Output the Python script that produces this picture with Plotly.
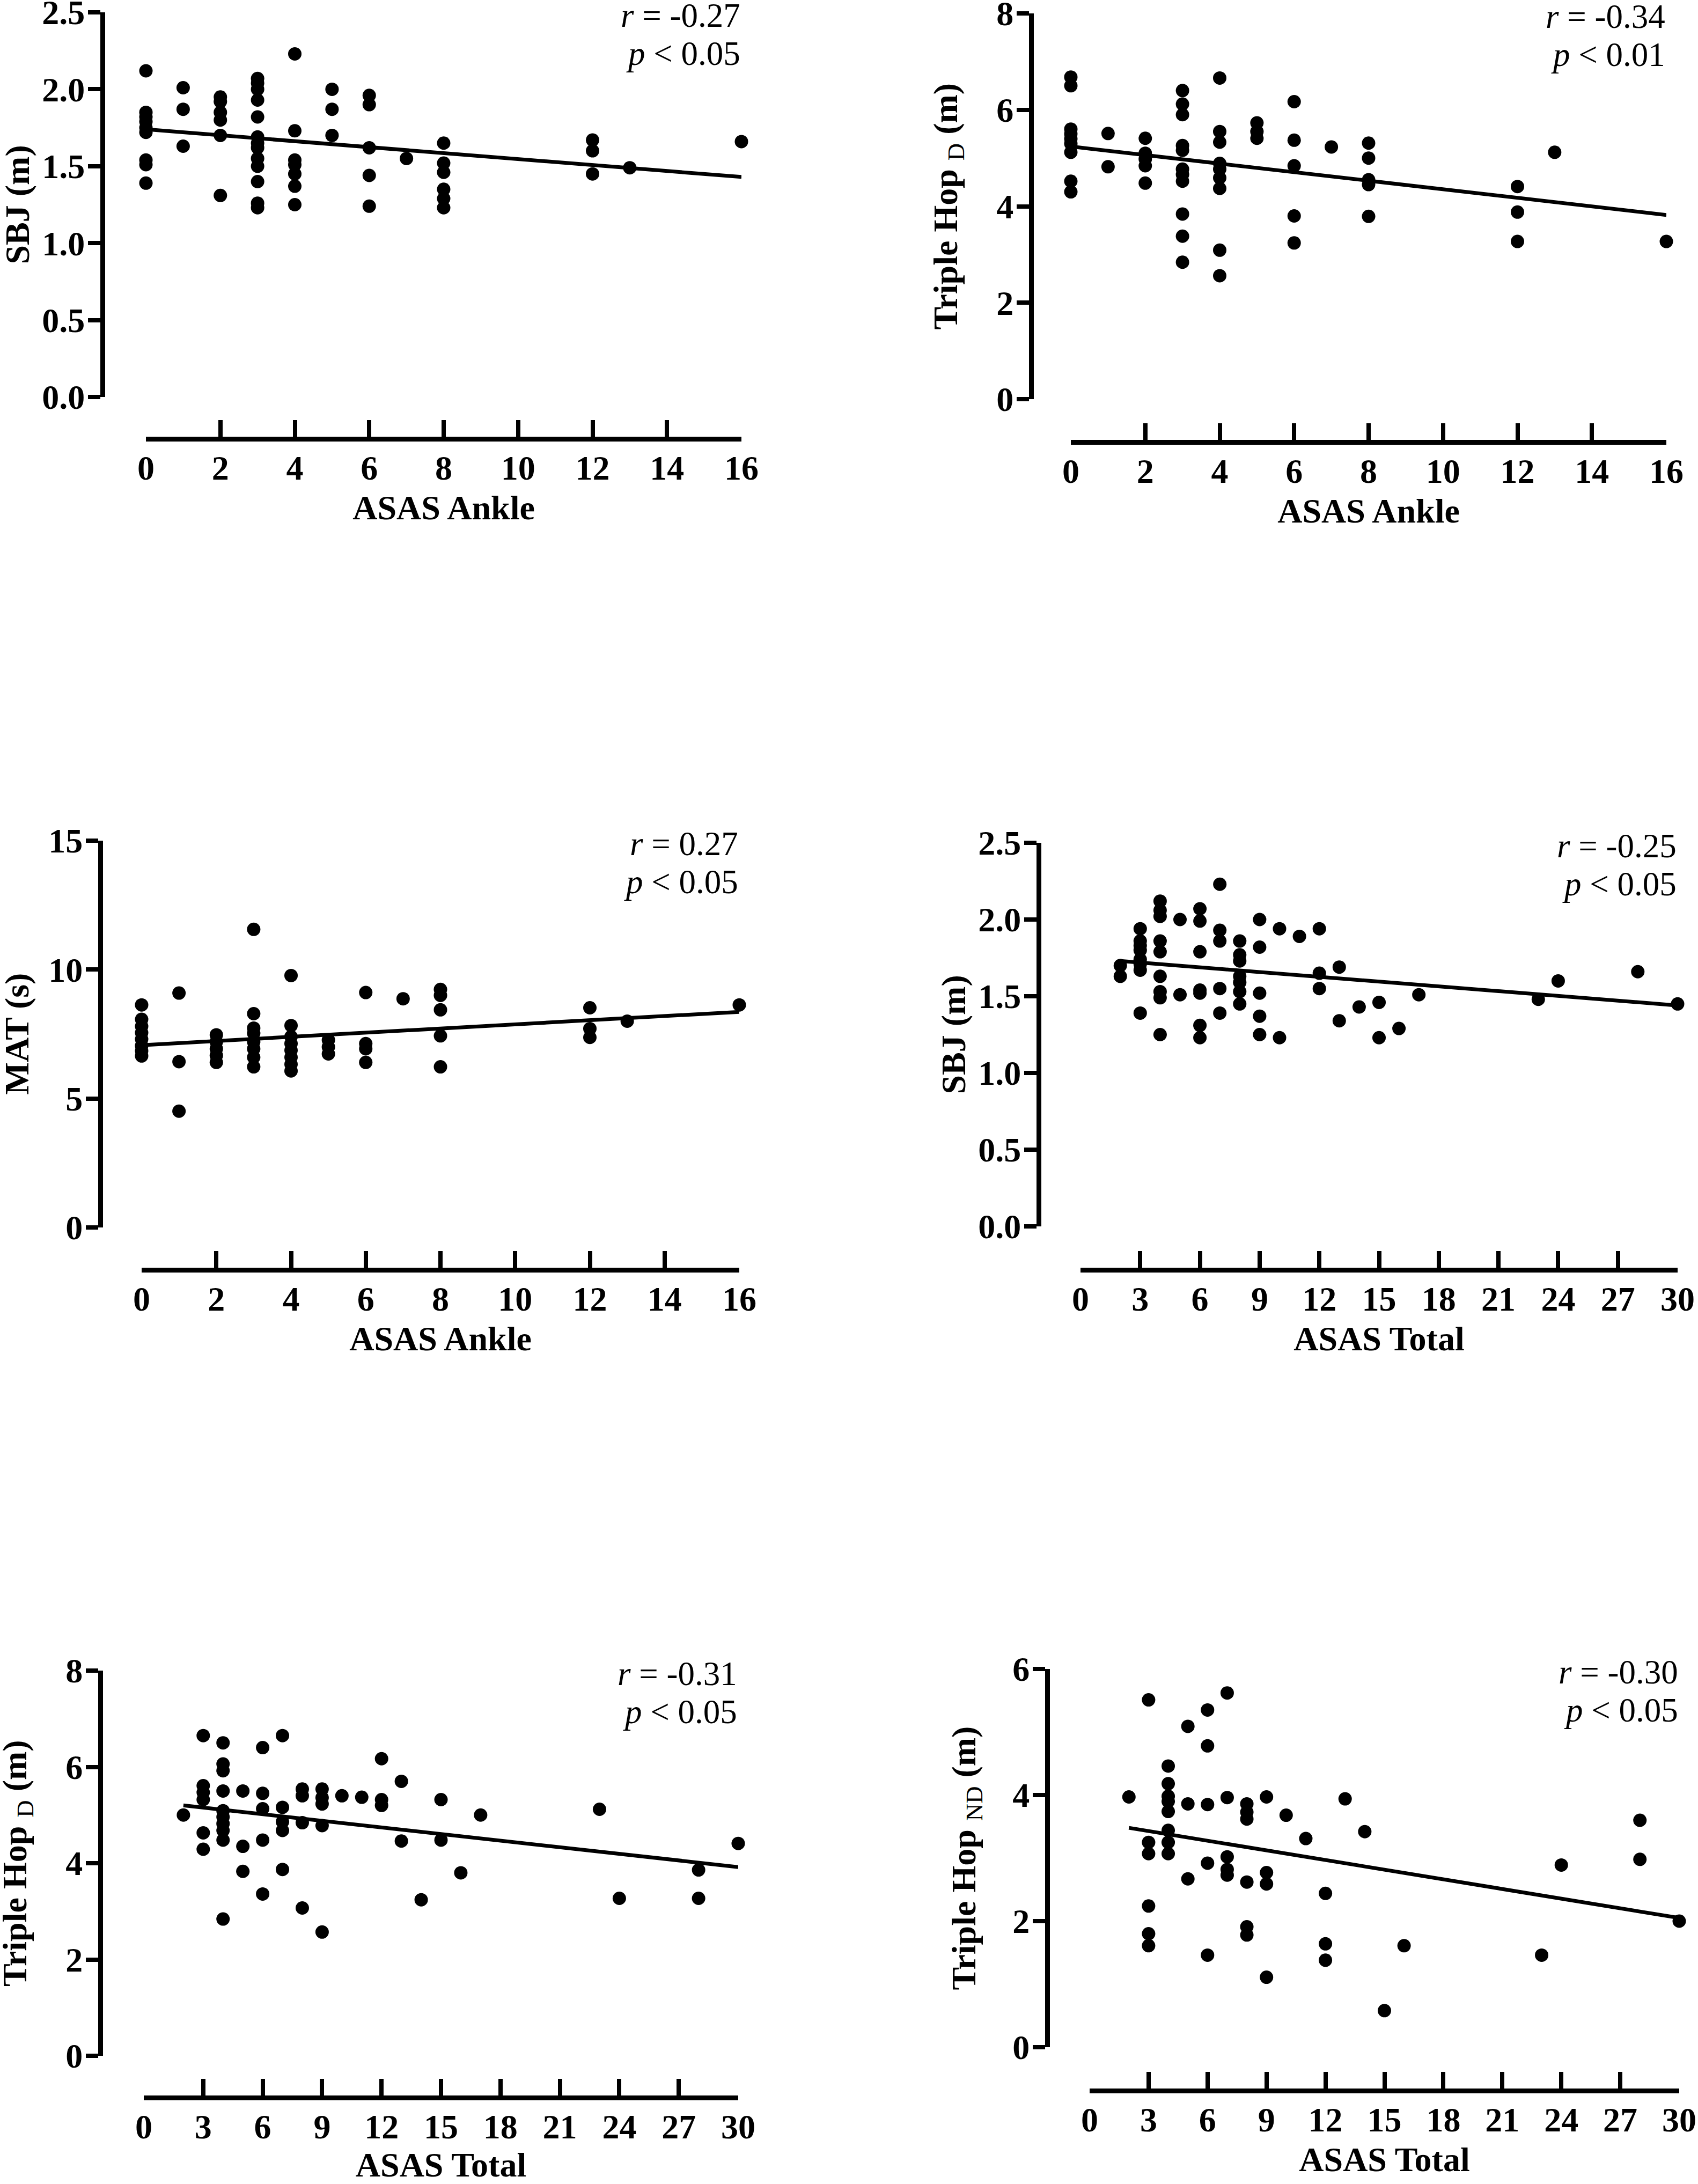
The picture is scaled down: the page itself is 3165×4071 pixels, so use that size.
import plotly.graph_objects as go

W, H = 3165, 4071

# ---- values ----
ankle_ticks = [0, 2, 4, 6, 8, 10, 12, 14, 16]
total_ticks = [0, 3, 6, 9, 12, 15, 18, 21, 24, 27, 30]

# SBJ vs ASAS Ankle
sbj_ankle_x = [0]*9 + [1]*3 + [2]*6 + [3]*13 + [4]*7 + [5]*3 + [6]*5 + [7] + [8]*6 + [12]*3 + [13] + [16]
sbj_ankle_y = [2.12, 1.85, 1.82, 1.79, 1.75, 1.72, 1.54, 1.51, 1.39,
               2.01, 1.87, 1.63,
               1.95, 1.92, 1.85, 1.80, 1.70, 1.31,
               2.07, 2.04, 2.00, 1.93, 1.82, 1.69, 1.65, 1.62, 1.55, 1.50, 1.40, 1.26, 1.23,
               2.23, 1.73, 1.54, 1.51, 1.45, 1.37, 1.25,
               2.00, 1.87, 1.70,
               1.96, 1.90, 1.62, 1.44, 1.24,
               1.55,
               1.65, 1.52, 1.46, 1.35, 1.29, 1.23,
               1.67, 1.60, 1.45,
               1.49,
               1.66]
sbj_ankle_fit = [1.74, 1.43]

# Triple Hop D vs ASAS Ankle
hopd_ankle_x = [0]*9 + [1]*2 + [2]*5 + [3]*11 + [4]*9 + [5]*3 + [6]*5 + [7] + [8]*5 + [12]*3 + [13] + [16]
hopd_ankle_y = [6.68, 6.50, 5.60, 5.50, 5.40, 5.30, 5.12, 4.52, 4.30,
                5.51, 4.82,
                5.41, 5.10, 4.98, 4.84, 4.48,
                6.40, 6.12, 5.90, 5.26, 5.16, 4.77, 4.66, 4.52, 3.84, 3.38, 2.84,
                6.66, 5.55, 5.33, 4.89, 4.77, 4.59, 4.37, 3.09, 2.56,
                5.73, 5.55, 5.41,
                6.17, 5.37, 4.84, 3.80, 3.24,
                5.23,
                5.31, 5.00, 4.55, 4.45, 3.79,
                4.41, 3.88, 3.27,
                5.12,
                3.27]
hopd_ankle_fit = [5.24, 3.82]

# MAT vs ASAS Ankle
mat_ankle_x = [0]*8 + [1]*3 + [2]*5 + [3]*8 + [4]*8 + [5]*3 + [6]*4 + [7] + [8]*5 + [12]*3 + [13] + [16]
mat_ankle_y = [8.63, 8.07, 7.80, 7.55, 7.30, 7.05, 6.85, 6.65,
               9.09, 6.43, 4.51,
               7.47, 7.20, 6.93, 6.67, 6.40,
               11.56, 8.29, 7.73, 7.53, 7.20, 6.93, 6.60, 6.23,
               9.77, 7.83, 7.40, 7.13, 6.87, 6.60, 6.33, 6.07,
               7.27, 7.00, 6.73,
               9.11, 7.13, 6.93, 6.40,
               8.87,
               9.23, 9.00, 8.44, 7.43, 6.23,
               8.52, 7.71, 7.37,
               8.00,
               8.63]
mat_ankle_fit = [7.07, 8.36]

# SBJ vs ASAS Total
sbj_total_x = ([2]*2 + [3]*8 + [4]*9 + [5]*2 + [6]*7 + [7]*5 + [8]*7 + [9]*5 + [10]*2 + [11]
               + [12]*3 + [13]*2 + [14] + [15]*2 + [16] + [17] + [23] + [24] + [28] + [30])
sbj_total_y = [1.70, 1.63,
               1.94, 1.86, 1.83, 1.80, 1.74, 1.71, 1.67, 1.39,
               2.12, 2.06, 2.02, 1.86, 1.79, 1.63, 1.53, 1.49, 1.25,
               2.00, 1.51,
               2.07, 1.99, 1.79, 1.54, 1.52, 1.31, 1.23,
               2.23, 1.93, 1.86, 1.55, 1.39,
               1.86, 1.77, 1.73, 1.63, 1.59, 1.53, 1.45,
               2.00, 1.82, 1.52, 1.37, 1.25,
               1.94, 1.23,
               1.89,
               1.94, 1.65, 1.55,
               1.69, 1.34,
               1.43,
               1.46, 1.23,
               1.29,
               1.51,
               1.48,
               1.60,
               1.66,
               1.45]
sbj_total_fit = [1.73, 1.44]

# Triple Hop D vs ASAS Total
hopd_total_x = ([2] + [3]*6 + [4]*10 + [5]*3 + [6]*5 + [7]*5 + [8]*4 + [9]*5 + [10] + [11]
                + [12]*3 + [13]*2 + [14] + [15]*2 + [16] + [17] + [23] + [24] + [28]*2 + [30])
hopd_total_y = [5.00,
                6.65, 5.61, 5.47, 5.32, 4.63, 4.29,
                6.50, 6.06, 5.92, 5.50, 5.09, 4.96, 4.82, 4.68, 4.48, 2.84,
                5.50, 4.35, 3.83,
                6.40, 5.45, 5.13, 4.48, 3.36,
                6.65, 5.16, 4.86, 4.68, 3.87,
                5.54, 5.40, 4.84, 3.07,
                5.54, 5.36, 5.23, 4.78, 2.57,
                5.40,
                5.37,
                6.17, 5.32, 5.20,
                5.70, 4.46,
                3.24,
                5.32, 4.48,
                3.80,
                5.00,
                5.12,
                3.27,
                3.86, 3.27,
                4.41]
hopd_total_fit = [5.20, 3.92]

# Triple Hop ND vs ASAS Total
hopnd_total_x = ([2] + [3]*6 + [4]*8 + [5]*3 + [6]*5 + [7]*5 + [8]*6 + [9]*4 + [10] + [11]
                 + [12]*3 + [13] + [14] + [15] + [16] + [23] + [24] + [28]*2 + [30])
hopnd_total_y = [3.97,
                 5.51, 3.25, 3.07, 2.24, 1.80, 1.61,
                 4.46, 4.18, 3.98, 3.90, 3.74, 3.44, 3.25, 3.07,
                 5.09, 3.86, 2.67,
                 5.35, 4.78, 3.85, 2.92, 1.46,
                 5.62, 3.96, 3.02, 2.82, 2.73,
                 3.86, 3.73, 3.62, 2.62, 1.91, 1.78,
                 3.97, 2.77, 2.59, 1.11,
                 3.68,
                 3.31,
                 2.44, 1.64, 1.38,
                 3.94,
                 3.42,
                 0.58,
                 1.61,
                 1.46,
                 2.89,
                 3.60, 2.98,
                 2.00]
hopnd_total_fit = [3.48, 2.05]

SUB = '<sub><span style="font-weight:normal">{}</span></sub>'

# box = (y-axis line x, x start, x end, y top, y bottom, x-axis line y, y-title centre x), in pixels
panels = [
    dict(x=sbj_ankle_x, y=sbj_ankle_y, fx=[0, 16], fy=sbj_ankle_fit,
         xt=ankle_ticks, yt=[0, 0.5, 1, 1.5, 2, 2.5], yfmt=".1f",
         xtitle="ASAS Ankle", ytitle="SBJ (m)", r="-0.27", p="0.05",
         box=(191, 272, 1382, 23, 740, 818, 32)),
    dict(x=hopd_ankle_x, y=hopd_ankle_y, fx=[0, 16], fy=hopd_ankle_fit,
         xt=ankle_ticks, yt=[0, 2, 4, 6, 8], yfmt="d",
         xtitle="ASAS Ankle", ytitle="Triple Hop " + SUB.format("D") + " (m)", r="-0.34", p="0.01",
         box=(1922, 1996, 3106, 25, 744, 824, 1767)),
    dict(x=mat_ankle_x, y=mat_ankle_y, fx=[0, 16], fy=mat_ankle_fit,
         xt=ankle_ticks, yt=[0, 5, 10, 15], yfmt="d",
         xtitle="ASAS Ankle", ytitle="MAT (s)", r="0.27", p="0.05",
         box=(187, 264, 1378, 1567, 2288, 2367, 31)),
    dict(x=sbj_total_x, y=sbj_total_y, fx=[2, 30], fy=sbj_total_fit,
         xt=total_ticks, yt=[0, 0.5, 1, 1.5, 2, 2.5], yfmt=".1f",
         xtitle="ASAS Total", ytitle="SBJ (m)", r="-0.25", p="0.05",
         box=(1936, 2014, 3127, 1571, 2286, 2367, 1777)),
    dict(x=hopd_total_x, y=hopd_total_y, fx=[2, 30], fy=hopd_total_fit,
         xt=total_ticks, yt=[0, 2, 4, 6, 8], yfmt="d",
         xtitle="ASAS Total", ytitle="Triple Hop " + SUB.format("D") + " (m)", r="-0.31", p="0.05",
         box=(187, 268, 1376, 3114, 3832, 3910, 32)),
    dict(x=hopnd_total_x, y=hopnd_total_y, fx=[2, 30], fy=hopnd_total_fit,
         xt=total_ticks, yt=[0, 2, 4, 6], yfmt="d",
         xtitle="ASAS Total", ytitle="Triple Hop " + SUB.format("ND") + " (m)", r="-0.30", p="0.05",
         box=(1952, 2031, 3130, 3111, 3816, 3897, 1800)),
]

FONT = "Liberation Serif"
tick_font = dict(family=FONT, size=64, color="black", weight="bold")
title_font = dict(family=FONT, size=64, color="black", weight="bold")
note_font = dict(family=FONT, size=63, color="black")

fig = go.Figure()
layout = {}
for i, p in enumerate(panels, start=1):
    yline_x, x0, x1, ytop, ybot, xline_y, ytitle_x = p["box"]
    s = "" if i == 1 else str(i)
    xa, ya = "x" + s, "y" + s
    fig.add_trace(go.Scatter(x=p["x"], y=p["y"], mode="markers", xaxis=xa, yaxis=ya,
                             marker=dict(color="black", size=25), cliponaxis=False,
                             showlegend=False))
    fig.add_trace(go.Scatter(x=p["fx"], y=p["fy"], mode="lines", xaxis=xa, yaxis=ya,
                             line=dict(color="black", width=7), cliponaxis=False,
                             showlegend=False))
    common = dict(showline=True, linewidth=9, linecolor="black", showgrid=False,
                  zeroline=False, tickwidth=8, tickcolor="black", tickfont=tick_font,
                  anchor="free", tickmode="array", automargin=False,
                  ticklabeloverflow="allow")
    layout["xaxis" + s] = dict(common, domain=[x0 / W, x1 / W], range=[p["xt"][0], p["xt"][-1]],
                               position=1 - xline_y / H, ticks="inside", ticklen=31,
                               tickvals=p["xt"], ticklabelstandoff=-6,
                               title=dict(text=p["xtitle"], font=title_font, standoff=16))
    layout["yaxis" + s] = dict(common, domain=[1 - ybot / H, 1 - ytop / H],
                               range=[p["yt"][0], p["yt"][-1]],
                               position=yline_x / W, ticks="outside", ticklen=23,
                               tickvals=p["yt"], tickformat=p["yfmt"], ticklabelstandoff=-7)
    # y title as rotated text at the same spot as in the source figure
    fig.add_annotation(text=p["ytitle"], xref="paper", yref=ya + " domain",
                       x=ytitle_x / W, y=0.5, xanchor="center", yanchor="middle",
                       textangle=-90, showarrow=False, font=title_font)
    # r and p lines
    fig.add_annotation(text="<i>r</i> = " + p["r"], xref=xa + " domain", yref="paper",
                       x=1.0, y=1 - (ytop + 6) / H, xanchor="right", yanchor="middle",
                       showarrow=False, font=note_font)
    fig.add_annotation(text="<i>p</i> &lt; " + p["p"], xref=xa + " domain", yref="paper",
                       x=1.0, y=1 - (ytop + 77) / H, xanchor="right", yanchor="middle",
                       showarrow=False, font=note_font)

fig.update_layout(**layout)
fig.update_layout(width=W, height=H, autosize=False, margin=dict(l=0, r=0, t=0, b=0),
                  paper_bgcolor="white", plot_bgcolor="white")

fig.write_html("out.html", config={"displayModeBar": False},
               post_script="document.body.style.margin='0px';")
